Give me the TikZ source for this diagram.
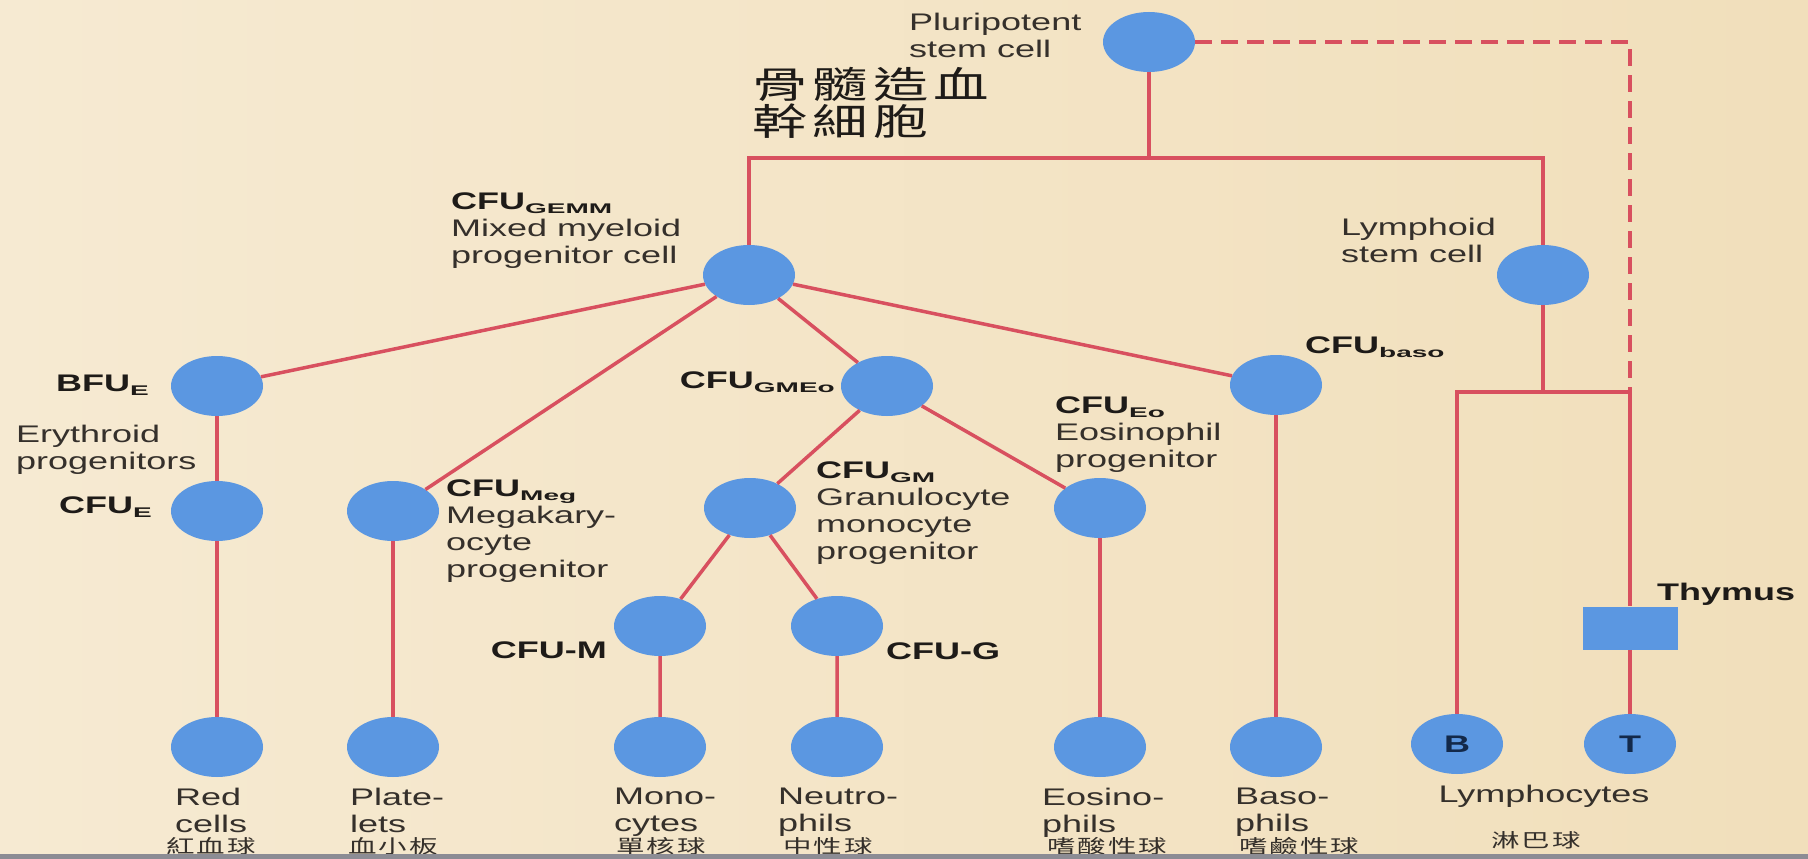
\documentclass[tikz,border=0pt]{standalone}
\usepackage{fontspec}
\setmainfont{Liberation Sans}[FakeStretch=1.5]
\newfontfamily\subfont{Liberation Sans}[FakeStretch=2.0]
\newfontfamily\cjk{Noto Sans CJK TC}[FakeStretch=1.5]
\usetikzlibrary{shapes.geometric}
\definecolor{bgL}{HTML}{F6EAD2}
\definecolor{bgR}{HTML}{F1DFBB}
\definecolor{cellblue}{HTML}{5B97E1}
\definecolor{linered}{HTML}{D8505F}
\definecolor{txt}{HTML}{35302B}
\definecolor{boldtxt}{HTML}{1E1B18}
\definecolor{navy}{HTML}{13294A}
\definecolor{barcol}{HTML}{8C8C94}
\newcommand\sbs[1]{\raisebox{-4pt}{\subfont\fontsize{14}{14}\selectfont\bfseries #1}}
\tikzset{
  cell/.style={ellipse, fill=cellblue, minimum width=92pt, minimum height=60pt, inner sep=0pt},
  lbl/.style={inner sep=0pt, text=txt, font=\fontsize{24}{27}\selectfont, align=left},
  blbl/.style={inner sep=0pt, text=boldtxt, font=\fontsize{24}{27}\selectfont\bfseries},
  link/.style={draw=linered, line width=3.5pt, line join=miter},
  cn/.style={inner sep=0pt, font=\cjk\fontsize{19}{19}\selectfont, text=txt},
  ttl/.style={anchor=west, inner sep=0pt, text=boldtxt, font=\cjk\fontsize{37}{37}\selectfont},
}
\begin{document}
\begin{tikzpicture}[x=1pt, y=-1pt]
\useasboundingbox (0,0) rectangle (1808,859);
\shade[left color=bgL, right color=bgR] (0,0) rectangle (1808,859);

% cells
\node[cell] (plur) at (1149,42) {};
\node[cell] (gemm) at (749,275) {};
\node[cell] (lymph) at (1543,275) {};
\node[cell] (bfue) at (217,386) {};
\node[cell] (cfue) at (217,511) {};
\node[cell] (meg) at (393,511) {};
\node[cell] (gmeo) at (887,386) {};
\node[cell] (gm) at (750,508) {};
\node[cell] (eo) at (1100,508) {};
\node[cell] (baso) at (1276,385) {};
\node[cell] (cfum) at (660,626) {};
\node[cell] (cfug) at (837,626) {};
\node[cell] (red) at (217,747) {};
\node[cell] (plt) at (393,747) {};
\node[cell] (mono) at (660,747) {};
\node[cell] (neut) at (837,747) {};
\node[cell] (eos) at (1100,747) {};
\node[cell] (bas) at (1276,747) {};
\node[cell, text=navy, font=\fontsize{24}{24}\selectfont\bfseries] (B) at (1457,744) {B};
\node[cell, text=navy, font=\fontsize{24}{24}\selectfont\bfseries] (T) at (1630,744) {T};
\node[rectangle, fill=cellblue, minimum width=95pt, minimum height=43pt, inner sep=0pt] (thy) at (1630,628) {};

% junctions
\coordinate (j0) at (1149,158);
\coordinate (jl) at (749,158);
\coordinate (jr) at (1543,158);
\coordinate (jm) at (1543,392);
\coordinate (jb) at (1457,392);
\coordinate (jt) at (1630,392);
\coordinate (dc) at (1630,42);

% connectors
\draw[link] (plur) -- (j0);
\draw[link] (gemm) -- (jl) -- (jr) -- (lymph);
\draw[link] (lymph) -- (jm);
\draw[link] (B) -- (jb) -- (jt) -- (thy);
\draw[link] (thy) -- (T);
\draw[link, dash pattern=on 17pt off 9pt] (plur) -- (dc) -- (jt);
\draw[link] (gemm) -- (bfue);
\draw[link] (gemm) -- (meg);
\draw[link] (gemm) -- (gmeo);
\draw[link] (gemm) -- (baso);
\draw[link] (bfue) -- (cfue) -- (red);
\draw[link] (meg) -- (plt);
\draw[link] (gmeo) -- (gm);
\draw[link] (gmeo) -- (eo);
\draw[link] (gm) -- (cfum) -- (mono);
\draw[link] (gm) -- (cfug) -- (neut);
\draw[link] (eo) -- (eos);
\draw[link] (baso) -- (bas);

% labels
\node[lbl, anchor=north west] (tplur) at (909,13) {Pluripotent\\stem cell};
\node[ttl] (title1) at (752,84) {骨\hspace{5pt}髓\hspace{5pt}造\hspace{5pt}血};
\node[ttl] (title2) at (752,121) {幹\hspace{5pt}細\hspace{5pt}胞};
\node[lbl, anchor=north west] (tgemm) at (451,193) {\textbf{\color{boldtxt}CFU\sbs{GEMM}}\\Mixed myeloid\\progenitor cell};
\node[lbl, anchor=north west] (tlymph) at (1341,218) {Lymphoid\\stem cell};
\node[blbl, anchor=north east] (tbfue) at (149,375) {BFU\sbs{E}};
\node[lbl, anchor=north west] (tery) at (16,425) {Erythroid\\progenitors};
\node[blbl, anchor=north east] (tcfue) at (152,497) {CFU\sbs{E}};
\node[lbl, anchor=north west] (tmeg) at (446,480) {\textbf{\color{boldtxt}CFU\sbs{Meg}}\\Megakary-\\ocyte\\progenitor};
\node[blbl, anchor=north east] (tgmeo) at (835,372) {CFU\sbs{GMEo}};
\node[lbl, anchor=north west] (tgm) at (816,462) {\textbf{\color{boldtxt}CFU\sbs{GM}}\\Granulocyte\\monocyte\\progenitor};
\node[lbl, anchor=north west] (teo) at (1055,397) {\textbf{\color{boldtxt}CFU\sbs{Eo}}\\Eosinophil\\progenitor};
\node[blbl, anchor=north west] (tbaso) at (1305,337) {CFU\sbs{baso}};
\node[blbl, anchor=north east] (tcfum) at (607,642) {CFU-M};
\node[blbl, anchor=north west] (tcfug) at (886,643) {CFU-G};
\node[blbl, anchor=north west] (tthy) at (1657,583) {Thymus};

% bottom labels
\node[lbl, anchor=north west] (tred) at (175,788) {Red\\cells};
\node[lbl, anchor=north west] (tplt) at (350,788) {Plate-\\lets};
\node[lbl, anchor=north west] (tmono) at (614,788) {Mono-\\cytes};
\node[lbl, anchor=north west] (tneut) at (778,788) {Neutro-\\phils};
\node[lbl, anchor=north west] (teos) at (1042,788) {Eosino-\\phils};
\node[lbl, anchor=north west] (tbas) at (1235,788) {Baso-\\phils};
\node[lbl, anchor=north] (tlym) at (1544,785) {Lymphocytes};

\node[cn] (cred) at (211,846) {紅\hspace{2pt}血\hspace{2pt}球};
\node[cn] (cplt) at (393,846) {血\hspace{2pt}小\hspace{2pt}板};
\node[cn] (cmono) at (661,846) {單\hspace{2pt}核\hspace{2pt}球};
\node[cn] (cneut) at (828,846) {中\hspace{2pt}性\hspace{2pt}球};
\node[cn] (ceos) at (1107,846) {嗜\hspace{2pt}酸\hspace{2pt}性\hspace{2pt}球};
\node[cn] (cbas) at (1299,846) {嗜\hspace{2pt}鹼\hspace{2pt}性\hspace{2pt}球};
\node[cn] (clym) at (1536,840) {淋\hspace{2pt}巴\hspace{2pt}球};

\fill[barcol] (0,854) rectangle (1808,859);
\end{tikzpicture}
\end{document}
